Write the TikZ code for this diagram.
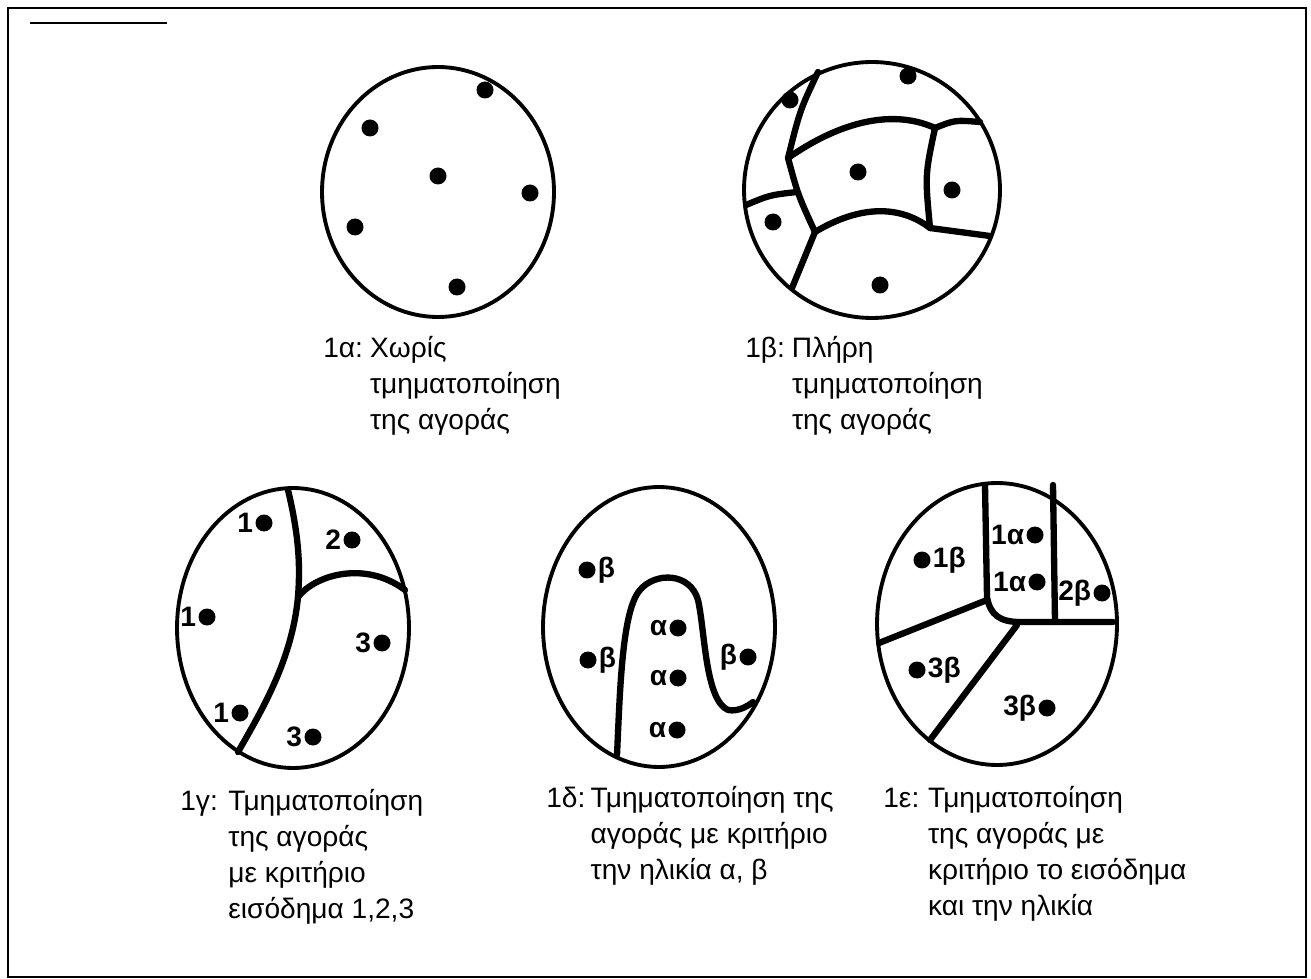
\documentclass[tikz,border=0pt]{standalone}
\usepackage{fontspec}
\setmainfont{Liberation Sans}
\newcommand\capfont{\fontsize{16}{20.5}\selectfont}

\tikzset{
  rim/.style={line width=2.2pt},
  cut/.style={line width=3.6pt, line cap=round, line join=round},
  dot/.style={circle, fill, inner sep=0pt, minimum size=0.34cm},
  every label/.style={font=\capfont\bfseries, inner sep=1pt},
  capt/.style={font=\capfont, inner sep=0pt, anchor=north west},
}

\begin{document}
\begin{tikzpicture}[x=0.02cm, y=-0.02cm]
\useasboundingbox (0,0) rectangle (1311,979);
% Frame
\draw[line width=1.6pt] (8,8) rectangle (1306,977);
\draw[line width=0.8pt] (30,23) -- (167,23);

% 1a: no segmentation
\draw[rim] (438,192) ellipse [x radius=2.32cm, y radius=2.5cm];
\node[dot] (a1) at (485,90) {};
\node[dot] (a2) at (370,128) {};
\node[dot] (a3) at (438,176) {};
\node[dot] (a4) at (530,193) {};
\node[dot] (a5) at (355,227) {};
\node[dot] (a6) at (457,287) {};

% 1b: full segmentation
\draw[rim] (872,190) ellipse [x radius=2.56cm, y radius=2.56cm];
\draw[cut] (818,72) .. controls (800,110) .. (788,158);
\draw[cut] (788,158) .. controls (850,115) and (900,112) .. (935,128);
\draw[cut] (935,128) .. controls (955,120) .. (980,122);
\draw[cut] (935,128) .. controls (925,175) .. (930,228);
\draw[cut] (930,228) -- (990,236);
\draw[cut] (815,232) .. controls (860,205) and (900,205) .. (930,228);
\draw[cut] (788,158) .. controls (798,195) .. (815,232);
\draw[cut] (815,232) -- (792,288);
\draw[cut] (746,205) .. controls (770,195) .. (797,192);
\node[dot] (b1) at (790,100) {};
\node[dot] (b2) at (908,76) {};
\node[dot] (b3) at (858,172) {};
\node[dot] (b4) at (952,190) {};
\node[dot] (b5) at (773,222) {};
\node[dot] (b6) at (880,285) {};

% 1c: income 1,2,3
\draw[rim] (293,628) ellipse [x radius=2.32cm, y radius=2.8cm];
\draw[cut] (288,490) .. controls (300,540) and (300,570) .. (298,597)
  .. controls (292,660) and (262,710) .. (238,752);
\draw[cut] (298,597) .. controls (315,575) and (365,560) .. (405,590);
\node[dot, label=left:1] (c1) at (264,523) {};
\node[dot, label=left:1] (c2) at (207,617) {};
\node[dot, label=left:1] (c3) at (240,713) {};
\node[dot, label=left:2] (c4) at (352,540) {};
\node[dot, label=left:3] (c5) at (382,643) {};
\node[dot, label=left:3] (c6) at (313,737) {};

% 1d: age a, b
\draw[rim] (659,627) ellipse [x radius=2.32cm, y radius=2.8cm];
\draw[cut] (617,755) .. controls (620,690) and (622,610) .. (640,590)
  .. controls (655,572) and (690,572) .. (698,600)
  .. controls (705,630) and (705,700) .. (728,710)
  .. controls (738,712) and (748,706) .. (753,702);
\node[dot, label=right:β] (d1) at (587,570) {};
\node[dot, label=right:β] (d2) at (588,660) {};
\node[dot, label=left:α] (d3) at (678,628) {};
\node[dot, label=left:α] (d4) at (678,678) {};
\node[dot, label=left:α] (d5) at (677,730) {};
\node[dot, label=left:β] (d6) at (748,657) {};

% 1e: income and age
\draw[rim] (997,624) ellipse [x radius=2.4cm, y radius=2.82cm];
\draw[cut] (985,485) -- (987,597) .. controls (990,615) and (1000,622) .. (1020,622) -- (1113,622);
\draw[cut] (1053,485) -- (1055,622);
\draw[cut] (987,600) -- (879,643);
\draw[cut] (1017,625) -- (930,740);
\node[dot, label=right:1β] (e1) at (922,560) {};
\node[dot, label=left:1α] (e2) at (1035,535) {};
\node[dot, label=left:1α] (e3) at (1037,582) {};
\node[dot, label=left:2β] (e4) at (1102,593) {};
\node[dot, label=right:3β] (e5) at (917,670) {};
\node[dot, label=left:3β] (e6) at (1047,708) {};

% Captions
\node[capt] (capa) at (323,332) {\begin{tabular}{@{}l@{\hspace{4pt}}l@{}}
  1α: & Χωρίς\\ & τμηματοποίηση\\ & της αγοράς\end{tabular}};
\node[capt] (capb) at (745,332) {\begin{tabular}{@{}l@{\hspace{4pt}}l@{}}
  1β: & Πλήρη\\ & τμηματοποίηση\\ & της αγοράς\end{tabular}};
\node[capt] (capc) at (180,785) {\begin{tabular}{@{}l@{\hspace{6pt}}l@{}}
  1γ: & Τμηματοποίηση\\ & της αγοράς\\ & με κριτήριο\\ & εισόδημα 1,2,3\end{tabular}};
\node[capt] (capd) at (546,782) {\begin{tabular}{@{}l@{\hspace{3pt}}l@{}}
  1δ: & Τμηματοποίηση της\\ & αγοράς με κριτήριο\\ & την ηλικία α, β\end{tabular}};
\node[capt] (cape) at (883,782) {\begin{tabular}{@{}l@{\hspace{5pt}}l@{}}
  1ε: & Τμηματοποίηση\\ & της αγοράς με\\ & κριτήριο το εισόδημα\\ & και την ηλικία\end{tabular}};
\end{tikzpicture}
\end{document}
